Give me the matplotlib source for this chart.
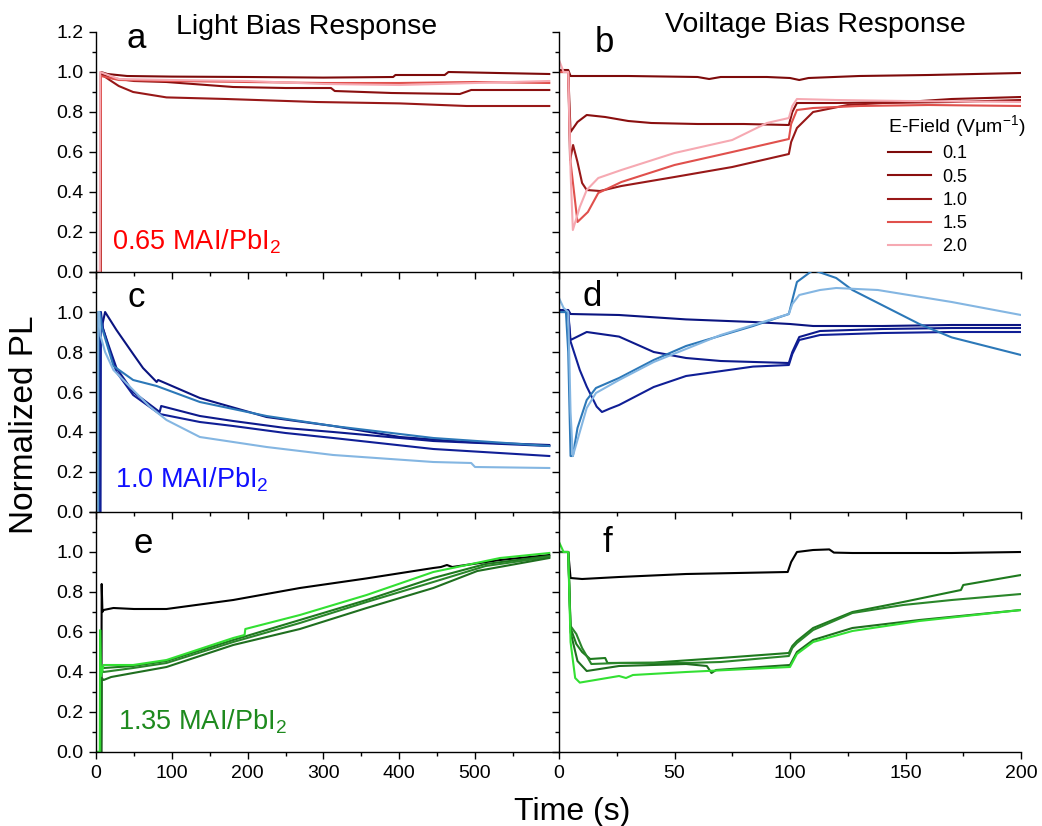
import matplotlib.pyplot as plt
from matplotlib.ticker import MultipleLocator, FixedLocator

plt.rcParams['font.family'] = ['Liberation Sans', 'DejaVu Sans']
plt.rcParams['mathtext.fontset'] = 'custom'
plt.rcParams['mathtext.rm'] = 'Liberation Sans'
plt.rcParams['mathtext.it'] = 'Liberation Sans:italic'

# ---- data (time in s, normalized PL) ----
fields = ['0.1', '0.5', '1.0', '1.5', '2.0']

# a: light bias, 0.65 MAI/PbI2
a1_t = [0, 6, 6.5, 15, 41, 100, 200, 300, 392, 395, 460, 465, 530, 598]
a1_v = [0, 0, 1.0, 0.99, 0.98, 0.977, 0.975, 0.972, 0.975, 0.985, 0.985, 1.0, 0.995, 0.99]
a2_t = [0, 6, 6.5, 20, 50, 93, 181, 250, 310, 315, 390, 480, 495, 598]
a2_v = [0, 0, 0.99, 0.97, 0.955, 0.95, 0.925, 0.92, 0.92, 0.905, 0.895, 0.89, 0.91, 0.91]
a3_t = [0, 6, 6.5, 18, 30, 49, 93, 172, 291, 401, 489, 598]
a3_v = [0, 0, 0.99, 0.96, 0.93, 0.90, 0.873, 0.865, 0.85, 0.843, 0.83, 0.83]
a4_t = [0, 6, 6.5, 30, 100, 200, 300, 400, 500, 598]
a4_v = [0, 0, 0.98, 0.96, 0.955, 0.95, 0.945, 0.945, 0.95, 0.945]
a5_t = [0, 5, 5.5, 30, 100, 200, 300, 400, 500, 598]
a5_v = [0, 0, 1.0, 0.965, 0.96, 0.955, 0.94, 0.935, 0.945, 0.955]

# b: voltage bias, 0.65 MAI/PbI2
b1_t = [0, 4, 5, 30, 60, 65, 70, 90, 100, 104, 108, 130, 160, 200]
b1_v = [1.01, 1.01, 0.98, 0.98, 0.975, 0.965, 0.975, 0.975, 0.97, 0.96, 0.97, 0.98, 0.985, 0.995]
b2_t = [0, 4, 5, 8, 12, 20, 30, 40, 60, 80, 99.5, 101, 103, 120, 150, 170, 200]
b2_v = [1.0, 1.0, 0.70, 0.75, 0.785, 0.775, 0.755, 0.745, 0.74, 0.74, 0.735, 0.80, 0.845, 0.845, 0.85, 0.865, 0.875]
b3_t = [0, 4, 4.8, 6.1, 8, 10, 12, 17.7, 27, 50, 75, 99.5, 100.5, 103, 110, 125, 140, 170, 200]
b3_v = [1.0, 1.0, 0.56, 0.635, 0.55, 0.445, 0.41, 0.405, 0.43, 0.475, 0.525, 0.59, 0.65, 0.72, 0.80, 0.835, 0.845, 0.85, 0.86]
b4_t = [0, 4, 5, 8, 12.5, 17, 27, 50, 75, 99.5, 100.5, 103, 110, 130, 160, 200]
b4_v = [1.0, 1.0, 0.55, 0.25, 0.30, 0.395, 0.45, 0.535, 0.60, 0.665, 0.74, 0.81, 0.82, 0.83, 0.835, 0.83]
b5_t = [0, 2, 4, 5, 6, 9, 12, 17, 27, 50, 75, 90, 99.5, 101, 103, 120, 150, 200]
b5_v = [1.06, 1.0, 1.0, 0.5, 0.21, 0.325, 0.41, 0.47, 0.51, 0.595, 0.66, 0.745, 0.77, 0.83, 0.865, 0.86, 0.855, 0.85]

# c: light bias, 1.0 MAI/PbI2
c1_t = [0, 5, 5.5, 8, 12, 27, 49, 62, 80, 82, 137, 225, 313, 401, 489, 598]
c1_v = [0, 0, 0.95, 0.93, 1.0, 0.91, 0.79, 0.72, 0.65, 0.66, 0.57, 0.475, 0.43, 0.375, 0.35, 0.335]
c2_t = [0, 5, 5.5, 9, 16, 27, 49, 84, 86, 137, 181, 250, 313, 445, 598]
c2_v = [0, 0, 1.0, 0.92, 0.84, 0.72, 0.60, 0.50, 0.53, 0.48, 0.455, 0.42, 0.40, 0.355, 0.33]
c3_t = [0, 6, 6.5, 9, 16, 27, 49, 84, 137, 181, 250, 313, 445, 598]
c3_v = [0, 0, 1.0, 0.92, 0.83, 0.70, 0.585, 0.49, 0.45, 0.43, 0.395, 0.37, 0.315, 0.28]
c4_t = [0, 3, 3.5, 5, 8, 23, 49, 80, 137, 225, 313, 445, 598]
c4_v = [0, 0, 1.0, 1.0, 0.92, 0.73, 0.66, 0.63, 0.55, 0.48, 0.43, 0.37, 0.33]
c5_t = [0, 2, 2.5, 4, 6, 12, 23, 49, 70, 93, 137, 225, 313, 445, 495, 500, 598]
c5_v = [0, 0, 1.0, 1.0, 0.88, 0.80, 0.71, 0.61, 0.53, 0.46, 0.375, 0.325, 0.285, 0.25, 0.245, 0.225, 0.22]

# d: voltage bias, 1.0 MAI/PbI2
d1_t = [0, 4, 5, 26, 55, 84, 100, 110, 140, 170, 200]
d1_v = [1.01, 1.01, 0.99, 0.985, 0.963, 0.95, 0.94, 0.93, 0.93, 0.935, 0.935]
d2_t = [0, 4, 5, 12, 26, 41, 55, 70, 99.5, 101, 104, 113, 140, 170, 200]
d2_v = [1.0, 1.0, 0.86, 0.90, 0.877, 0.80, 0.77, 0.755, 0.745, 0.80, 0.875, 0.905, 0.915, 0.92, 0.92]
d3_t = [0, 4, 4.8, 9, 12, 16.3, 18.6, 22, 26, 41, 55, 84, 99.5, 101, 104, 113, 140, 170, 200]
d3_v = [1.0, 1.0, 0.86, 0.71, 0.627, 0.527, 0.50, 0.517, 0.535, 0.625, 0.68, 0.727, 0.735, 0.79, 0.86, 0.885, 0.895, 0.90, 0.90]
d4_t = [0, 3, 4, 5, 6, 8, 12, 16, 26, 41, 55, 84, 99.5, 101, 103, 110, 120, 127, 156, 170, 200]
d4_v = [1.0, 1.0, 0.8, 0.28, 0.28, 0.42, 0.56, 0.62, 0.67, 0.76, 0.83, 0.93, 0.99, 1.06, 1.15, 1.21, 1.17, 1.11, 0.94, 0.873, 0.785]
d5_t = [0, 2, 4, 5, 6, 9, 12, 16, 26, 41, 70, 99.5, 101, 104, 113, 120, 138, 170, 200]
d5_v = [1.07, 1.02, 1.0, 0.5, 0.28, 0.40, 0.52, 0.595, 0.66, 0.75, 0.885, 0.99, 1.04, 1.085, 1.11, 1.12, 1.11, 1.05, 0.985]

# e: light bias, 1.35 MAI/PbI2
e1_t = [0, 7, 7.5, 8.5, 10, 23, 50, 93, 181, 269, 357, 445, 455, 463, 470, 533, 598]
e1_v = [0, 0, 0.84, 0.70, 0.71, 0.72, 0.715, 0.715, 0.76, 0.82, 0.868, 0.92, 0.925, 0.935, 0.925, 0.96, 0.985]
e2_t = [0, 6, 6.5, 10, 49, 93, 181, 269, 357, 445, 514, 598]
e2_v = [0, 0, 0.43, 0.42, 0.43, 0.455, 0.56, 0.66, 0.76, 0.87, 0.94, 0.98]
e3_t = [0, 6.5, 7, 10, 49, 93, 181, 269, 357, 445, 514, 598]
e3_v = [0, 0, 0.41, 0.40, 0.42, 0.445, 0.55, 0.645, 0.75, 0.85, 0.93, 0.975]
e4_t = [0, 7, 7.5, 10, 20, 49, 93, 181, 269, 357, 445, 503, 598]
e4_v = [0, 0, 0.37, 0.36, 0.375, 0.395, 0.425, 0.535, 0.615, 0.72, 0.82, 0.905, 0.97]
e5_t = [0, 5, 5.5, 6.5, 10, 49, 93, 181, 196, 197, 269, 357, 445, 533, 598]
e5_v = [0, 0, 0.61, 0.38, 0.435, 0.435, 0.46, 0.57, 0.585, 0.615, 0.685, 0.785, 0.90, 0.97, 0.995]

# f: voltage bias, 1.35 MAI/PbI2
f1_t = [0, 4, 5, 10, 26, 55, 99, 100.5, 103, 110, 117, 119, 127, 170, 200]
f1_v = [1.0, 1.0, 0.87, 0.865, 0.875, 0.89, 0.90, 0.95, 1.0, 1.01, 1.013, 0.997, 0.995, 0.995, 1.0]
f2_t = [0, 4, 5, 7.5, 10, 13.5, 20, 21, 41, 70, 99.5, 101, 103, 110, 127, 149, 174, 175, 200]
f2_v = [1.0, 1.0, 0.62, 0.54, 0.50, 0.465, 0.47, 0.445, 0.447, 0.47, 0.495, 0.53, 0.555, 0.62, 0.70, 0.75, 0.81, 0.835, 0.885]
f3_t = [0, 4, 5, 7.5, 10, 14, 26, 55, 70, 99.5, 101, 103, 110, 127, 149, 170, 200]
f3_v = [1.0, 1.0, 0.63, 0.59, 0.52, 0.44, 0.445, 0.445, 0.45, 0.48, 0.52, 0.545, 0.61, 0.695, 0.735, 0.76, 0.79]
f4_t = [0, 4, 5, 8, 12, 26, 55, 64, 66, 68, 100, 103, 110, 127, 156, 200]
f4_v = [1.0, 1.0, 0.60, 0.455, 0.405, 0.43, 0.44, 0.43, 0.395, 0.41, 0.435, 0.50, 0.56, 0.62, 0.66, 0.71]
f5_t = [0, 2, 4, 5, 7, 9, 26, 29, 32, 55, 100, 103, 110, 127, 156, 200]
f5_v = [1.05, 1.0, 1.0, 0.55, 0.37, 0.347, 0.38, 0.37, 0.385, 0.40, 0.425, 0.49, 0.55, 0.605, 0.655, 0.71]

reds = ['#7d0a0a', '#8a0f0f', '#981818', '#e0504c', '#f6a9b2']
blues = ['#0a1480', '#0d1a8c', '#101f96', '#2c78b8', '#84b6e2']
greens = ['#000000', '#1e7a1e', '#2a862a', '#1f6f1f', '#33e033']

W, H = 1042, 826
fig = plt.figure(figsize=(W / 100, H / 100), dpi=100)


def box(x0, y0, x1, y1):
    return [x0 / W, 1 - y1 / H, (x1 - x0) / W, (y1 - y0) / H]


def style(ax, left_col, bottom_row, first_row):
    for s in ['top', 'right']:
        ax.spines[s].set_visible(False)
    for s in ['left', 'bottom']:
        ax.spines[s].set_linewidth(1.0)
    ax.set_ylim(0, 1.2)
    ax.yaxis.set_major_locator(MultipleLocator(0.2))
    ax.yaxis.set_minor_locator(MultipleLocator(0.1))
    if left_col:
        ax.set_xlim(0, 463 / 0.758)
        ax.xaxis.set_major_locator(FixedLocator([0, 100, 200, 300, 400, 500]))
        ax.xaxis.set_minor_locator(FixedLocator([50, 150, 250, 350, 450, 550]))
    else:
        ax.set_xlim(0, 200)
        ax.xaxis.set_major_locator(MultipleLocator(50))
        ax.xaxis.set_minor_locator(MultipleLocator(25))
    ax.tick_params(which='major', direction='out', length=5, width=1, labelsize=14, pad=4)
    ax.tick_params(which='minor', direction='out', length=3, width=1)
    ax.tick_params(axis='x', labelbottom=bottom_row)
    ax.tick_params(axis='y', labelleft=left_col)
    if left_col:
        ax.set_yticks([0, 0.2, 0.4, 0.6, 0.8, 1.0, 1.2])
        labs = ['0.0', '0.2', '0.4', '0.6', '0.8', '1.0', '1.2' if first_row else '']
        ax.set_yticklabels(labs)
    ax.patch.set_alpha(0)


tops = [32, 272, 512]
panels = [
    ([(a1_t, a1_v), (a2_t, a2_v), (a3_t, a3_v), (a4_t, a4_v), (a5_t, a5_v)],
     [(b1_t, b1_v), (b2_t, b2_v), (b3_t, b3_v), (b4_t, b4_v), (b5_t, b5_v)], reds),
    ([(c1_t, c1_v), (c2_t, c2_v), (c3_t, c3_v), (c4_t, c4_v), (c5_t, c5_v)],
     [(d1_t, d1_v), (d2_t, d2_v), (d3_t, d3_v), (d4_t, d4_v), (d5_t, d5_v)], blues),
    ([(e1_t, e1_v), (e2_t, e2_v), (e3_t, e3_v), (e4_t, e4_v), (e5_t, e5_v)],
     [(f1_t, f1_v), (f2_t, f2_v), (f3_t, f3_v), (f4_t, f4_v), (f5_t, f5_v)], greens),
]

legend_lines = []
for r, (left_data, right_data, cols) in enumerate(panels):
    top = tops[r]
    axl = fig.add_axes(box(96, top, 559, top + 240))
    axr = fig.add_axes(box(559, top, 1021, top + 240))
    style(axl, True, r == 2, r == 0)
    style(axr, False, r == 2, r == 0)
    for (t, v), c in zip(left_data, cols):
        axl.plot(t, v, color=c, lw=1.5)
    for (t, v), c, lab in zip(right_data, cols, fields):
        ln, = axr.plot(t, v, color=c, lw=1.5, label=lab)
        if r == 0:
            legend_lines.append(ln)
    if r == 0:
        leg = axr.legend(handles=legend_lines, title='E-Field (Vμm$^{-1}$)',
                         loc='upper left', bbox_to_anchor=(888 / W, 1 - 113 / H),
                         bbox_transform=fig.transFigure, frameon=False,
                         borderpad=0, borderaxespad=0, alignment='left',
                         handlelength=2.4, handletextpad=0.6, labelspacing=0.35,
                         fontsize=13, title_fontsize=14)


def ftext(px, py, s, **kw):
    fig.text(px / W, 1 - py / H, s, **kw)


ftext(307, 34, 'Light Bias Response', fontsize=20.5, ha='center', va='baseline')
ftext(815, 32, 'Voiltage Bias Response', fontsize=20.5, ha='center', va='baseline')
for lab, px, py in [('a', 136, 48), ('b', 604, 52), ('c', 136, 307),
                    ('d', 592, 306), ('e', 143, 553), ('f', 607, 552)]:
    ftext(px, py, lab, fontsize=25, ha='center', va='baseline')

ftext(112, 250, '0.65 MAI/PbI$_2$', fontsize=19.5, color='#ff0000', va='baseline')
ftext(115, 488, '1.0 MAI/PbI$_2$', fontsize=19.5, color='#1010ff', va='baseline')
ftext(118, 730, '1.35 MAI/PbI$_2$', fontsize=19.5, color='#1e8a1e', va='baseline')

ftext(25, 425, 'Normalized PL', fontsize=24, rotation=90, ha='center', va='center')
ftext(572, 820, 'Time (s)', fontsize=23, ha='center', va='baseline')

fig.savefig('out.png', dpi=100)
